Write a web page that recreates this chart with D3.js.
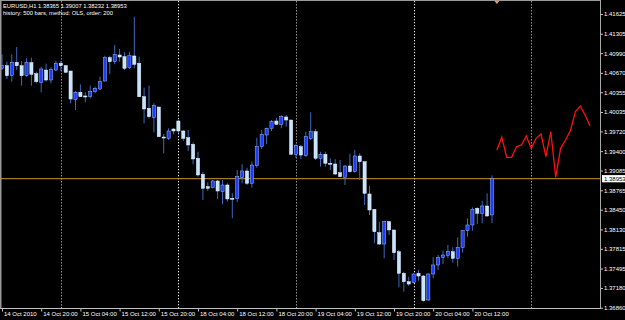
<!DOCTYPE html>
<html><head><meta charset="utf-8">
<script src="https://cdn.jsdelivr.net/npm/d3@7"></script>
<style>html,body{margin:0;padding:0;background:#000;overflow:hidden}</style>
</head><body>
<svg id="c" width="625" height="320"></svg>
<script>
const opens = [1.40744,1.40786,1.40624,1.40841,1.40786,1.40624,1.40835,1.40656,1.40517,1.40716,
1.40554,1.40716,1.40825,1.40786,1.40700,1.40235,1.40355,1.40295,1.40283,1.40364,
1.40408,1.40538,1.40916,1.40851,1.40960,1.40932,1.40754,1.40944,1.40825,1.40283,
1.40095,1.39943,1.40116,1.39629,1.39608,1.39759,1.39889,1.39727,1.39618,1.39511,
1.39284,1.39024,1.38823,1.38807,1.38916,1.38742,1.38851,1.38635,1.38635,1.38969,
1.39078,1.38878,1.39164,1.39472,1.39662,1.39771,1.39889,1.39835,1.39954,1.39905,
1.39349,1.39472,1.39326,1.39608,1.39715,1.39284,1.39349,1.39203,1.39191,1.39050,
1.38976,1.39159,1.39066,1.39321,1.39229,1.38705,1.38456,1.38077,1.37893,1.38255,
1.38121,1.37768,1.37418,1.37282,1.37266,1.37418,1.37374,1.36985,1.37407,1.37553,
1.37678,1.37710,1.37768,1.37661,1.37840,1.38109,1.38202,1.38473,1.38392,1.38510,
1.38365];
const highs = [1.40971,1.40851,1.40971,1.41090,1.40862,1.40906,1.40916,1.40689,1.40770,1.40819,
1.40760,1.40862,1.40862,1.40798,1.40700,1.40376,1.40484,1.40355,1.40462,1.40446,
1.40608,1.40948,1.40948,1.41122,1.41057,1.41004,1.41013,1.41581,1.40932,1.40429,
1.40462,1.40176,1.40116,1.39678,1.39771,1.39771,1.39905,1.39743,1.39743,1.39543,
1.39391,1.39066,1.38894,1.38932,1.38932,1.38932,1.38878,1.38716,1.39094,1.39187,
1.39131,1.39229,1.39618,1.39743,1.39780,1.39905,1.39943,1.39986,1.39986,1.39905,
1.39511,1.39500,1.39715,1.40030,1.39759,1.39391,1.39391,1.39284,1.39268,1.39256,
1.39175,1.39354,1.39419,1.39365,1.39229,1.38834,1.38456,1.38255,1.38271,1.38271,
1.38121,1.37796,1.37444,1.37363,1.37418,1.37472,1.37391,1.37418,1.37678,1.37715,
1.37785,1.37877,1.37840,1.38002,1.38121,1.38310,1.38489,1.38489,1.38596,1.38716,
1.39007];
const lows = [1.40716,1.40570,1.40527,1.40716,1.40462,1.40608,1.40462,1.40501,1.40355,1.40527,
1.40501,1.40700,1.40700,1.40679,1.40176,1.40067,1.40283,1.40192,1.40257,1.40338,
1.40392,1.40527,1.40647,1.40809,1.40851,1.40716,1.40733,1.40744,1.40283,1.39852,
1.39933,1.39706,1.39634,1.39365,1.39581,1.39673,1.39689,1.39565,1.39402,1.39187,
1.38985,1.38607,1.38753,1.38797,1.38624,1.38538,1.38580,1.38310,1.38570,1.38878,
1.38851,1.38807,1.39131,1.39435,1.39511,1.39727,1.39824,1.39771,1.39796,1.39337,
1.39284,1.39273,1.39310,1.39581,1.39256,1.39148,1.39148,1.39094,1.39013,1.38976,
1.38851,1.39050,1.39050,1.38932,1.38526,1.38364,1.37905,1.37877,1.37661,1.38039,
1.37634,1.37191,1.37120,1.37212,1.37256,1.37298,1.36957,1.36974,1.37337,1.37472,
1.37569,1.37661,1.37590,1.37525,1.37752,1.38012,1.38109,1.38218,1.38229,1.38336,
1.38232];
const closes = [1.40786,1.40624,1.40841,1.40786,1.40624,1.40841,1.40647,1.40527,1.40733,1.40554,
1.40721,1.40825,1.40786,1.40679,1.40246,1.40355,1.40283,1.40283,1.40371,1.40420,
1.40527,1.40916,1.40851,1.40971,1.40927,1.40744,1.40948,1.40809,1.40283,1.40084,
1.39959,1.40137,1.39634,1.39625,1.39727,1.39727,1.39727,1.39608,1.39500,1.39273,
1.39013,1.38797,1.38797,1.38916,1.38753,1.38851,1.38624,1.38624,1.38985,1.39078,
1.38878,1.39175,1.39472,1.39673,1.39771,1.39878,1.39835,1.39959,1.39905,1.39349,
1.39488,1.39337,1.39634,1.39715,1.39284,1.39349,1.39203,1.39187,1.39029,1.38985,
1.39159,1.39066,1.39321,1.39229,1.38716,1.38445,1.38093,1.37893,1.38255,1.38121,
1.37752,1.37418,1.37282,1.37244,1.37407,1.37374,1.36974,1.37407,1.37553,1.37678,
1.37715,1.37768,1.37661,1.37840,1.38109,1.38202,1.38456,1.38392,1.38510,1.38348,
1.38953];
// forecast (OLS extrapolation), bars 101..120
const forecast = [1.39419,1.39625,1.39300,1.39300,1.39472,1.39500,1.39646,1.39446,1.39608,1.39678,
1.39310,1.39715,1.38976,1.39446,1.39581,1.39732,1.40040,1.40132,1.39986,1.39808];
const forecastStart = 101;
const xTickIndex = [0,8,16,24,32,40,48,56,64,72,80,88,96];
const xTickLabels = ["14 Oct 2010","14 Oct 20:00","15 Oct 04:00","15 Oct 12:00","15 Oct 20:00",
"18 Oct 04:00","18 Oct 12:00","18 Oct 20:00","19 Oct 04:00","19 Oct 12:00","19 Oct 20:00",
"20 Oct 04:00","20 Oct 12:00"];
const yTickValues = [1.41625,1.41305,1.40990,1.40670,1.40355,1.40035,1.39720,1.39400,1.39085,
1.38765,1.38450,1.38130,1.37815,1.37495,1.37180,1.36860];
const separatorIndex = [12,36,60,84,108];
const separatorKind = ["grey","white","grey","white","grey"];
const bidPrice = 1.38953;
const titleLines = ["EURUSD,H1  1.38365 1.39007 1.38232 1.38953","history: 500 bars, method: OLS, order: 200"];

const svg = d3.select("#c");
const W = 625, H = 320, plotR = 601, plotB = 309;
svg.append("rect").attr("width",W).attr("height",H).attr("fill","#000");

const x = d3.scaleLinear().domain([0,120]).range([2,590]);
const y = d3.scaleLinear().domain([1.36860,1.41625]).range([307.7,14]);
const font = "'Liberation Sans', Arial, sans-serif";

// separators
svg.append("g").selectAll("line").data(separatorIndex).join("line")
  .attr("x1",d=>Math.round(x(d))+0.5).attr("x2",d=>Math.round(x(d))+0.5)
  .attr("y1",1).attr("y2",plotB)
  .attr("stroke",(d,i)=>separatorKind[i]==="grey"?"#8a8a8a":"#e8e8e8")
  .attr("stroke-width",1)
  .attr("stroke-dasharray",(d,i)=>separatorKind[i]==="grey"?"1.6,1.4":"1.3,1.7");

// bid line
svg.append("line").attr("x1",0).attr("x2",plotR).attr("y1",y(bidPrice)).attr("y2",y(bidPrice))
  .attr("stroke","#c8982c").attr("stroke-width",1);

// candles
const bars = d3.range(opens.length).map(i=>({i,o:opens[i],h:highs[i],l:lows[i],c:closes[i]}));
const cg = svg.append("g");
cg.selectAll("line.w").data(bars).join("line").attr("class","w")
  .attr("x1",d=>x(d.i)).attr("x2",d=>x(d.i))
  .attr("y1",d=>y(d.h)).attr("y2",d=>y(d.l))
  .attr("stroke","#3f68bd").attr("stroke-width",1);
cg.selectAll("rect.b").data(bars).join("rect").attr("class","b")
  .attr("x",d=>x(d.i)-1.6).attr("width",3.2)
  .attr("y",d=>Math.min(y(d.o),y(d.c)))
  .attr("height",d=>Math.max(1,Math.abs(y(d.o)-y(d.c))))
  .attr("fill",d=>d.c>=d.o?"#1e3cff":"#c6e4ff")
  .attr("stroke",d=>d.c>=d.o?"#8cbcf0":"#e4f2ff")
  .attr("stroke-width",0.5);

// forecast line
const fc = forecast.map((v,k)=>({i:forecastStart+k,v}));
svg.append("path").datum(fc)
  .attr("d",d3.line().x(d=>x(d.i)).y(d=>y(d.v)))
  .attr("fill","none").attr("stroke","#ff1010").attr("stroke-width",1.3);

// shift marker
const mx = x(forecastStart);
svg.append("path").attr("d",`M${mx-2.5},1 L${mx+2.5},1 L${mx},4 Z`).attr("fill","#e8a020");

// borders
svg.append("rect").attr("x",0).attr("y",0).attr("width",1.5).attr("height",plotB).attr("fill","#9a9a9a");
svg.append("line").attr("x1",0).attr("x2",plotR).attr("y1",0.5).attr("y2",0.5).attr("stroke","#9a9a9a");
svg.append("line").attr("x1",plotR-0.5).attr("x2",plotR-0.5).attr("y1",0).attr("y2",plotB).attr("stroke","#a8a8a8");
svg.append("line").attr("x1",0).attr("x2",plotR).attr("y1",plotB-0.5).attr("y2",plotB-0.5).attr("stroke","#c0c0c0");

// y axis
const ya = svg.append("g").attr("transform",`translate(${plotR-0.5},0)`)
  .call(d3.axisRight(y).tickValues(yTickValues).tickFormat(d3.format(".5f")).tickSize(2.5).tickSizeOuter(0));
ya.select(".domain").remove();
ya.selectAll("line").attr("stroke","#c0c0c0");
ya.selectAll("text").attr("fill","#fff").attr("x",3.5).style("font-family",font).style("font-size","6px");

// bid label
const bg = svg.append("g").attr("transform",`translate(${plotR},${y(bidPrice)})`);
bg.append("rect").attr("x",1).attr("y",-3.6).attr("width",23).attr("height",7.2).attr("fill","#fff");
bg.append("text").attr("x",3).attr("y",0).attr("dy","0.34em").text(d3.format(".5f")(bidPrice))
  .attr("fill","#000").style("font-family",font).style("font-size","6px");

// x axis
const xa = svg.append("g").attr("transform",`translate(0,${plotB-0.5})`)
  .call(d3.axisBottom(x).tickValues(xTickIndex).tickFormat((d,i)=>xTickLabels[i]).tickSize(3).tickSizeOuter(0));
xa.select(".domain").remove();
xa.selectAll("line").attr("stroke","#c0c0c0");
xa.selectAll("text").attr("fill","#fff").attr("text-anchor","start").attr("x",1.5).attr("y",3)
  .style("font-family",font).style("font-size","6px");

// title
svg.append("g").selectAll("text").data(titleLines).join("text")
  .attr("x",3).attr("y",(d,i)=>8.3+i*6.6).text(d=>d)
  .attr("fill","#fff").style("font-family",font).style("font-size","5.8px");
</script>
</body></html>
